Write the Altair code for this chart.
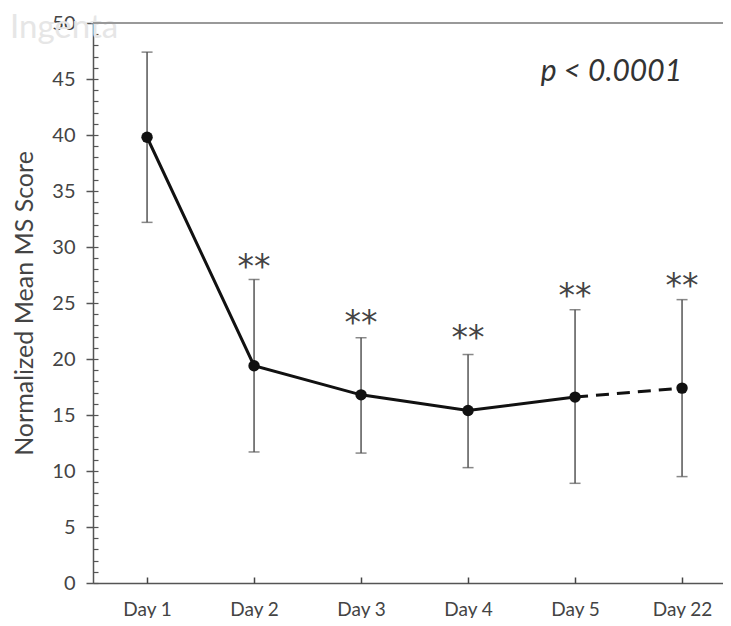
import altair as alt
import pandas as pd

days = ["Day 1", "Day 2", "Day 3", "Day 4", "Day 5", "Day 22"]
means = [39.8, 19.4, 16.8, 15.4, 16.6, 17.4]
lower = [32.2, 11.7, 11.6, 10.3, 8.9, 9.5]
upper = [47.4, 27.1, 21.9, 20.4, 24.4, 25.3]
solid_days = ["Day 1", "Day 2", "Day 3", "Day 4", "Day 5"]
dashed_days = ["Day 5", "Day 22"]
star_days = ["Day 2", "Day 3", "Day 4", "Day 5", "Day 22"]
star_y = [28.7, 23.7, 22.3, 26.1, 27.0]
y_major = [0, 5, 10, 15, 20, 25, 30, 35, 40, 45, 50]
y_minor = list(range(0, 51))
p_label = "p < 0.0001"
y_title = "Normalized Mean MS Score"
watermark = "Ingenta"

FONT = "Lato"
W, H = 630, 560

df = pd.DataFrame({"day": days, "mean": means, "lo": lower, "hi": upper})
solid = df[df["day"].isin(solid_days)]
dashed = df[df["day"].isin(dashed_days)]
stars = pd.DataFrame({"day": star_days, "y": star_y, "label": ["**"] * len(star_days)})
ptext = pd.DataFrame({"day": ["Day 22"], "y": [45.6], "label": [p_label]})
wm = pd.DataFrame({"label": [watermark]})

xs = alt.Scale(type="point", domain=days, padding=0.444, align=0.569)
ys = alt.Scale(domain=[0, 50], nice=False, zero=True)

base = alt.Chart(df)

err = base.mark_rule(color="#555555", strokeWidth=1.5).encode(
    x=alt.X("day:N", scale=xs, axis=None),
    y=alt.Y("lo:Q", scale=ys, axis=None),
    y2="hi:Q",
)
cap_lo = base.mark_tick(color="#555555", thickness=1.5, size=11).encode(
    x=alt.X("day:N", scale=xs, axis=None),
    y=alt.Y("lo:Q", scale=ys, axis=None),
)
cap_hi = base.mark_tick(color="#555555", thickness=1.5, size=11).encode(
    x=alt.X("day:N", scale=xs, axis=None),
    y=alt.Y("hi:Q", scale=ys, axis=None),
)
line_solid = alt.Chart(solid).mark_line(color="#111111", strokeWidth=3).encode(
    x=alt.X("day:N", scale=xs, sort=days, axis=None),
    y=alt.Y("mean:Q", scale=ys, axis=None),
)
line_dash = alt.Chart(dashed).mark_line(color="#111111", strokeWidth=3, strokeDash=[13, 8]).encode(
    x=alt.X("day:N", scale=xs, sort=days, axis=None),
    y=alt.Y("mean:Q", scale=ys, axis=None),
)
points = base.mark_circle(color="#111111", size=130, opacity=1).encode(
    x=alt.X("day:N", scale=xs, axis=alt.Axis(
        orient="bottom", title=None, labelAngle=0, tickSize=0, domainColor="#555555",
        domainWidth=1.5, labelFont=FONT, labelFontSize=19, labelColor="#444444",
        labelPadding=17, grid=False)),
    y=alt.Y("mean:Q", scale=ys, axis=alt.Axis(
        orient="left", values=y_major, title=y_title, tickSize=7, tickColor="#555555",
        tickWidth=1.5, domainColor="#555555", domainWidth=1.5, labelFont=FONT,
        labelFontSize=20, labelColor="#444444", labelPadding=11, titleFont=FONT,
        titleFontSize=25, titleFontWeight="normal", titleColor="#444444",
        titlePadding=14, grid=False)),
)
# inward minor ticks on the y axis and inward category ticks on the x axis
minor = alt.Chart(df).mark_point(opacity=0).encode(
    x=alt.X("day:N", scale=xs, axis=alt.Axis(
        orient="top", offset=-H, title=None, labels=False, domain=False,
        tickSize=6, tickColor="#444444", tickWidth=1.5, grid=False)),
    y=alt.Y("mean:Q", scale=ys, axis=alt.Axis(
        orient="right", offset=-W, values=y_minor, title=None, labels=False,
        domain=False, tickSize=5, tickColor="#555555", tickWidth=1.2, grid=False)),
)
top_border = alt.Chart(wm).mark_rule(color="#999999", strokeWidth=2).encode(
    y=alt.datum(50, scale=ys, axis=None),
)
star_text = alt.Chart(stars).mark_text(
    font="DejaVu Sans", fontSize=33, color="#444444", baseline="middle", dy=6
).encode(
    x=alt.X("day:N", scale=xs, axis=None),
    y=alt.Y("y:Q", scale=ys, axis=None),
    text="label:N",
)
p_text = alt.Chart(ptext).mark_text(
    font=FONT, fontSize=30, fontStyle="italic", color="#333333", align="right",
    baseline="middle"
).encode(
    x=alt.X("day:N", scale=xs, axis=None),
    y=alt.Y("y:Q", scale=ys, axis=None),
    text="label:N",
)
wm_text = alt.Chart(wm).mark_text(
    font=FONT, fontSize=33, color="#e6e6e6", align="left", baseline="middle"
).encode(
    x=alt.value(-83), y=alt.value(5), text="label:N",
)

chart = alt.layer(
    wm_text, top_border, err, cap_lo, cap_hi, line_solid, line_dash, points,
    minor, star_text, p_text
).resolve_axis(x="independent", y="independent").properties(
    width=W, height=H,
    autosize=alt.AutoSizeParams(type="none"),
    padding={"left": 85, "top": 15, "right": 0, "bottom": 35},
).configure_view(stroke=None).configure(background="white")

chart.save("out.html", embed_options={"renderer": "svg", "actions": False})
